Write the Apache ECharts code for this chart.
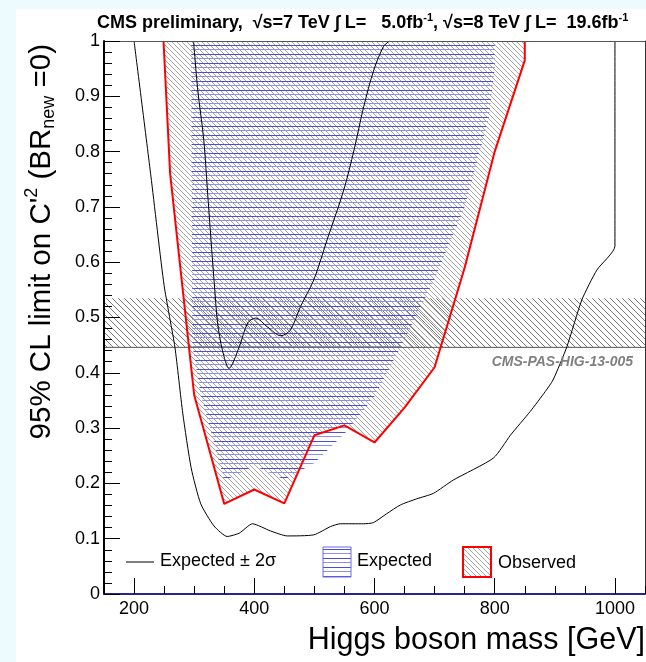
<!DOCTYPE html>
<html>
<head>
<meta charset="utf-8">
<script src="https://cdn.jsdelivr.net/npm/echarts@6/dist/echarts.min.js"></script>
<style>
html, body { margin: 0; padding: 0; background: #eefbfe; }
#chart { width: 646px; height: 662px; }
</style>
</head>
<body>
<div id="chart"></div>
<script>
// Axis ranges and labelled ticks
const massRange = [150, 1050];
const massLabels = [200, 400, 600, 800, 1000];
const limitRange = [0, 1];

// Observed excluded region: red contour (Higgs mass [GeV], C'^2 limit)
const obsMass  = [249, 260, 300, 350, 400, 450, 500, 550, 600, 650, 700, 750, 800, 850, 850];
const obsLimit = [1.0, 0.76, 0.36, 0.163, 0.189, 0.164, 0.287, 0.305, 0.274, 0.337, 0.41, 0.59, 0.80, 0.965, 1.0];

// Expected excluded region boundary
const expMass  = [295, 297, 311, 328, 350, 400, 450, 500, 550, 600, 650, 700, 750, 790, 800, 800];
const expLimit = [1.0, 0.45, 0.36, 0.294, 0.205, 0.232, 0.207, 0.237, 0.29, 0.357, 0.46, 0.57, 0.70, 0.86, 0.95, 1.0];

// Expected +/- 2 sigma contours
const outerMass  = [200, 228, 250, 268, 281, 295, 311, 333, 355, 375, 397, 427, 455, 499, 527, 543, 582, 598, 620, 643, 670, 698, 731, 798, 826, 859, 884, 897, 920, 945, 970, 1000, 1000];
const outerLimit = [1.0, 0.756, 0.558, 0.446, 0.327, 0.228, 0.163, 0.123, 0.104, 0.110, 0.127, 0.114, 0.105, 0.107, 0.122, 0.127, 0.127, 0.129, 0.145, 0.161, 0.172, 0.182, 0.206, 0.246, 0.287, 0.33, 0.366, 0.387, 0.447, 0.532, 0.586, 0.629, 1.0];
const innerMass  = [299, 306, 316, 322, 328, 333, 339, 347, 358, 375, 389, 402, 422, 444, 460, 477, 499, 521, 549, 566, 582, 599, 615, 625];
const innerLimit = [1.0, 0.911, 0.821, 0.731, 0.64, 0.568, 0.49, 0.441, 0.408, 0.447, 0.49, 0.499, 0.483, 0.467, 0.477, 0.52, 0.568, 0.64, 0.731, 0.803, 0.881, 0.948, 0.99, 1.0];

// Horizontal hatched band of C'^2 values
const bandLimits = [0.446, 0.535];

const FONT = 'Liberation Sans';

// Hatch pattern tiles
function diagonalHatch(size, color) {
  const c = document.createElement('canvas');
  c.width = size; c.height = size;
  const ctx = c.getContext('2d');
  ctx.strokeStyle = color;
  ctx.lineWidth = 1;
  ctx.beginPath();
  for (let k = -1; k <= 1; k++) {
    ctx.moveTo(k * size, 0);
    ctx.lineTo(k * size + size, size);
  }
  ctx.stroke();
  return { image: c, repeat: 'repeat' };
}
function horizontalHatch() {
  const c = document.createElement('canvas');
  c.width = 4; c.height = 9;
  const ctx = c.getContext('2d');
  ctx.fillStyle = '#4c4cdc';
  ctx.fillRect(0, 0, 4, 1);
  ctx.fillStyle = '#8e8eec';
  ctx.fillRect(0, 4, 4, 1);
  return { image: c, repeat: 'repeat' };
}
const obsFill = diagonalHatch(5, '#a6a6a6');
const bandFill = diagonalHatch(6, '#7a7a7a');
const expFill = horizontalHatch();

function zip(xs, ys) { return xs.map((x, i) => [x, ys[i]]); }

function polygonRenderer(xs, ys, fill) {
  return function (params, api) {
    if (params.dataIndex !== 0) return null;
    const pts = xs.map((x, i) => api.coord([x, ys[i]]));
    return { type: 'polygon', shape: { points: pts }, style: { fill: fill, stroke: null } };
  };
}

const chart = echarts.init(document.getElementById('chart'), null, { renderer: 'canvas' });

const hiddenAxisParts = {
  axisTick: { show: false }, axisLabel: { show: false },
  splitLine: { show: false }, minorTick: { show: false }, minorSplitLine: { show: false }
};

chart.setOption({
  animation: false,
  backgroundColor: '#eefbfe',
  grid: { left: 104, right: 1, top: 41, bottom: 68, containLabel: false, outerBoundsMode: 'none' },
  xAxis: [
    {
      type: 'value', position: 'bottom', min: massRange[0], max: massRange[1], interval: 50, z: 10,
      axisLine: { show: true, onZero: false, lineStyle: { color: '#26268c', width: 2 } },
      axisTick: { show: true, inside: true, length: 8, lineStyle: { color: '#000', width: 1 } },
      axisLabel: {
        show: true, margin: 6, fontSize: 18, fontFamily: FONT, color: '#000',
        formatter: v => (massLabels.indexOf(v) >= 0 ? String(v) : '')
      },
      splitLine: { show: false }
    },
    {
      type: 'value', position: 'bottom', min: massRange[0], max: massRange[1], z: 10,
      axisLine: { show: false, onZero: false },
      axisTick: { show: true, inside: true, length: 16, customValues: massLabels, lineStyle: { color: '#000', width: 1 } },
      axisLabel: { show: false }, splitLine: { show: false }
    },
    Object.assign({
      type: 'value', position: 'top', min: massRange[0], max: massRange[1], z: 10,
      axisLine: { show: true, onZero: false, lineStyle: { color: '#555', width: 1 } }
    }, hiddenAxisParts)
  ],
  yAxis: [
    {
      type: 'value', position: 'left', min: limitRange[0], max: limitRange[1], interval: 0.1, z: 10,
      axisLine: { show: true, onZero: false, lineStyle: { color: '#000', width: 2 } },
      axisTick: { show: true, inside: true, length: 16, lineStyle: { color: '#000', width: 1 } },
      minorTick: { show: true, splitNumber: 5, length: 8, lineStyle: { color: '#000', width: 1 } },
      axisLabel: { margin: 4, fontSize: 18, fontFamily: FONT, color: '#000' },
      splitLine: { show: false }, minorSplitLine: { show: false }
    },
    Object.assign({
      type: 'value', position: 'right', min: limitRange[0], max: limitRange[1], z: 10,
      axisLine: { show: true, onZero: false, lineStyle: { color: '#333', width: 1 } }
    }, hiddenAxisParts)
  ],
  series: [
    {
      type: 'custom', z: 1, silent: true,
      data: [[massRange[0], bandLimits[0], massRange[1], bandLimits[1]]],
      encode: { x: [0, 2], y: [1, 3] },
      renderItem: function (params, api) {
        const a = api.coord([api.value(0), api.value(1)]);
        const b = api.coord([api.value(2), api.value(3)]);
        return { type: 'rect', shape: { x: a[0], y: b[1], width: b[0] - a[0], height: a[1] - b[1] }, style: { fill: bandFill } };
      }
    },
    {
      type: 'custom', z: 2, silent: true,
      data: zip(obsMass, obsLimit),
      renderItem: polygonRenderer(obsMass, obsLimit, obsFill)
    },
    {
      type: 'custom', z: 3, silent: true,
      data: zip(expMass, expLimit),
      renderItem: polygonRenderer(expMass, expLimit, expFill)
    },
    {
      type: 'line', z: 4, silent: true, showSymbol: false, symbol: 'none',
      data: [[massRange[0], bandLimits[0]], [massRange[1], bandLimits[0]]],
      lineStyle: { color: '#555', width: 1 }
    },
    {
      type: 'line', z: 5, silent: true, showSymbol: false, symbol: 'none', smooth: 0.2,
      data: zip(outerMass, outerLimit),
      lineStyle: { color: '#000', width: 1 }
    },
    {
      type: 'line', z: 5, silent: true, showSymbol: false, symbol: 'none', smooth: 0.3,
      data: zip(innerMass, innerLimit),
      lineStyle: { color: '#000', width: 1 }
    },
    {
      type: 'line', z: 6, silent: true, showSymbol: false, symbol: 'none',
      data: zip(obsMass, obsLimit),
      lineStyle: { color: '#ff0000', width: 2 }
    }
  ],
  graphic: [
    { type: 'rect', z: -100, silent: true, shape: { x: 16, y: 9, width: 630, height: 653 }, style: { fill: '#ffffff' } },
    {
      type: 'text', x: 97, y: 23, z: 100,
      style: {
        text: '{t|CMS preliminary,  √s=7 TeV ∫ L=   5.0fb}{s|-1}{t|, √s=8 TeV ∫ L=  19.6fb}{s|-1}',
        align: 'left', verticalAlign: 'middle', fill: '#000',
        rich: {
          t: { fontSize: 18, fontWeight: 'bold', fontFamily: FONT, fill: '#000' },
          s: { fontSize: 11, fontWeight: 'bold', fontFamily: FONT, fill: '#000', padding: [0, 0, 11, 0] }
        }
      }
    },
    {
      type: 'text', x: 42, y: 44, rotation: Math.PI / 2, z: 100,
      style: {
        text: "{m|95% CL limit on C'}{p|2}{m| (BR}{b|new}{m| =0)}",
        align: 'right', verticalAlign: 'middle', fill: '#000',
        rich: {
          m: { fontSize: 29.5, fontFamily: FONT, fill: '#000' },
          p: { fontSize: 18, fontFamily: FONT, fill: '#000', padding: [0, 0, 19, 0] },
          b: { fontSize: 18, fontFamily: FONT, fill: '#000', padding: [15, 0, 0, 0] }
        }
      }
    },
    {
      type: 'text', x: 645, y: 641, z: 100,
      style: { text: 'Higgs boson mass [GeV]', fontSize: 30.5, fontFamily: FONT, fill: '#000', align: 'right', verticalAlign: 'middle' }
    },
    {
      type: 'text', x: 633, y: 362, z: 100,
      style: { text: 'CMS-PAS-HIG-13-005', fontSize: 14, fontWeight: 'bold', fontStyle: 'italic', fontFamily: FONT, fill: '#808080', align: 'right', verticalAlign: 'middle' }
    },
    { type: 'line', z: 100, shape: { x1: 126, y1: 562, x2: 154, y2: 562 }, style: { stroke: '#000', lineWidth: 1 } },
    {
      type: 'text', x: 160, y: 561, z: 100,
      style: { text: 'Expected ± 2σ', fontSize: 18, fontFamily: FONT, fill: '#000', align: 'left', verticalAlign: 'middle' }
    },
    { type: 'rect', z: 100, shape: { x: 323, y: 547, width: 28, height: 30 }, style: { fill: expFill, stroke: '#6b6be6', lineWidth: 1 } },
    {
      type: 'text', x: 357, y: 561, z: 100,
      style: { text: 'Expected', fontSize: 18, fontFamily: FONT, fill: '#000', align: 'left', verticalAlign: 'middle' }
    },
    { type: 'rect', z: 100, shape: { x: 463, y: 547, width: 28, height: 30 }, style: { fill: obsFill, stroke: '#ff0000', lineWidth: 2 } },
    {
      type: 'text', x: 498, y: 563, z: 100,
      style: { text: 'Observed', fontSize: 18, fontFamily: FONT, fill: '#000', align: 'left', verticalAlign: 'middle' }
    }
  ]
});
</script>
</body>
</html>
